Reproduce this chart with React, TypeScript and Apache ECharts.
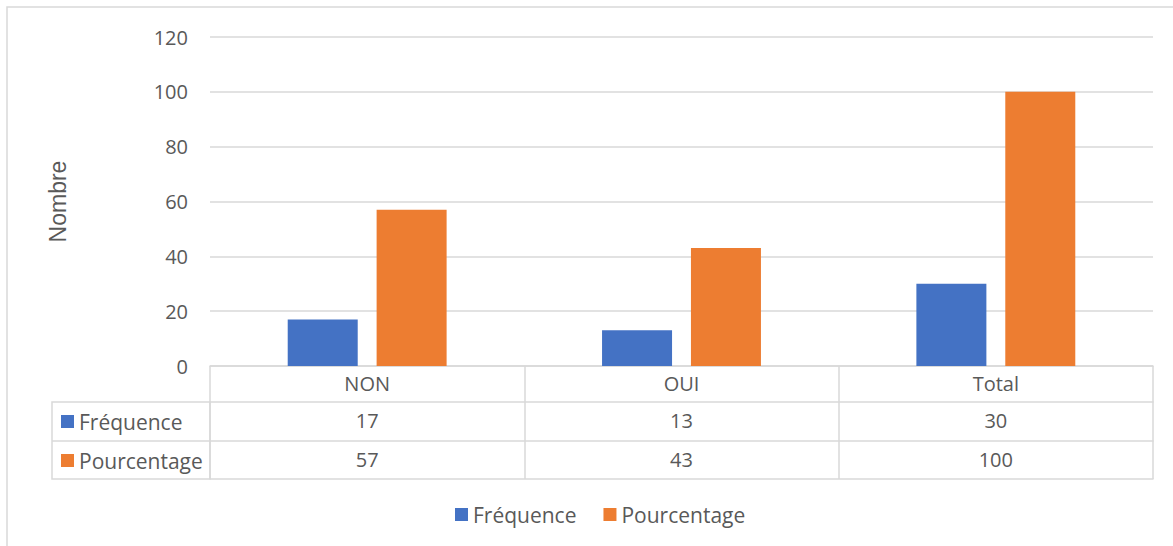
import React, { useEffect, useRef } from "react";
import * as echarts from "echarts";

const categories = ["NON", "OUI", "Total"];
const frequence = [17, 13, 30];
const pourcentage = [57, 43, 100];
const seriesNames = ["Fréquence", "Pourcentage"];
const yTicks = { min: 0, max: 120, interval: 20 };
const yAxisName = "Nombre";

const FONT = "'Open Sans', Lato, sans-serif";
const TXT = "#595959";
const LINE = "#d9d9d9";
const BLUE = "#4472C4";
const ORANGE = "#ED7D31";
const FS = 20;
const LFS = 21;

export default function App() {
  const ref = useRef<HTMLDivElement>(null);
  useEffect(() => {
    if (!ref.current) return;
    const chart = echarts.init(ref.current, null, { renderer: "svg" });
    const gridLeft = 210;
    const gridRight = 20;
    const gridTop = 37;
    const gridBottom = 180;
    const axisY = 546 - gridBottom;
    const rowH = [36, 39, 38];
    const rowAxis = (data: (string | number)[], offset: number, showLabel: boolean) => ({
      type: "category",
      data: data.map(String),
      position: "bottom",
      offset,
      axisLine: { show: true, lineStyle: { color: LINE, width: 1.5 } },
      axisTick: { show: false },
      axisLabel: {
        show: showLabel,
        color: TXT,
        fontFamily: FONT,
        fontSize: FS,
        margin: 8,
      },
      splitLine: { show: false },
    });
    chart.setOption({
      animation: false,
      backgroundColor: "#ffffff",
      textStyle: { fontFamily: FONT },
      grid: { left: gridLeft, right: gridRight, top: gridTop, bottom: gridBottom, containLabel: false },
      legend: [
        {
          data: seriesNames,
          bottom: 21,
          left: 455,
          padding: 0,
          icon: "rect",
          itemWidth: 13,
          itemHeight: 13,
          itemGap: 27,
          textStyle: { color: TXT, fontFamily: FONT, fontSize: LFS },
          selectedMode: false,
        },
        {
          data: seriesNames,
          orient: "vertical",
          left: 61,
          top: axisY + rowH[0] + 9,
          padding: 0,
          icon: "rect",
          itemWidth: 13,
          itemHeight: 13,
          itemGap: 18,
          textStyle: { color: TXT, fontFamily: FONT, fontSize: LFS, lineHeight: 20 },
          selectedMode: false,
        },
      ],
      xAxis: [
        {
          type: "category",
          data: categories,
          position: "bottom",
          axisLine: { show: true, lineStyle: { color: LINE, width: 1.5 } },
          axisTick: {
            show: true,
            length: rowH[0] + rowH[1] + rowH[2],
            lineStyle: { color: LINE, width: 1.5 },
          },
          axisLabel: { color: TXT, fontFamily: FONT, fontSize: FS, margin: 7 },
          splitLine: { show: false },
        },
        rowAxis(frequence, rowH[0], true),
        rowAxis(pourcentage, rowH[0] + rowH[1], true),
        rowAxis(categories.map(() => ""), rowH[0] + rowH[1] + rowH[2], false),
      ],
      yAxis: {
        type: "value",
        min: yTicks.min,
        max: yTicks.max,
        interval: yTicks.interval,
        name: yAxisName,
        nameLocation: "middle",
        nameRotate: 90,
        nameGap: 141,
        nameTextStyle: { color: TXT, fontFamily: "'Liberation Sans', Arial, sans-serif", fontSize: 23 },
        axisLine: { show: false },
        axisTick: { show: false },
        axisLabel: { color: TXT, fontFamily: FONT, fontSize: FS, margin: 22 },
        splitLine: { lineStyle: { color: LINE, width: 1.5 } },
      },
      series: [
        {
          name: seriesNames[0],
          type: "bar",
          data: frequence,
          barWidth: 70,
          barGap: "27%",
          itemStyle: { color: BLUE },
        },
        {
          name: seriesNames[1],
          type: "bar",
          data: pourcentage,
          barWidth: 70,
          itemStyle: { color: ORANGE },
        },
      ],
      graphic: [
        {
          type: "rect",
          shape: { x: 7, y: 7, width: 1200, height: 600 },
          style: { fill: "none", stroke: LINE, lineWidth: 1.5 },
          silent: true,
        },
        {
          type: "rect",
          shape: { x: 52, y: axisY + rowH[0], width: gridLeft - 52, height: rowH[1] + rowH[2] },
          style: { fill: "none", stroke: LINE, lineWidth: 1.5 },
          silent: true,
        },
        {
          type: "line",
          shape: { x1: 52, y1: axisY + rowH[0] + rowH[1], x2: gridLeft, y2: axisY + rowH[0] + rowH[1] },
          style: { stroke: LINE, lineWidth: 1.5 },
          silent: true,
        },
      ],
    });
    return () => chart.dispose();
  }, []);
  return (
    <div
      ref={ref}
      style={{ position: "fixed", left: 0, top: 0, width: 1173, height: 546 }}
    />
  );
}
